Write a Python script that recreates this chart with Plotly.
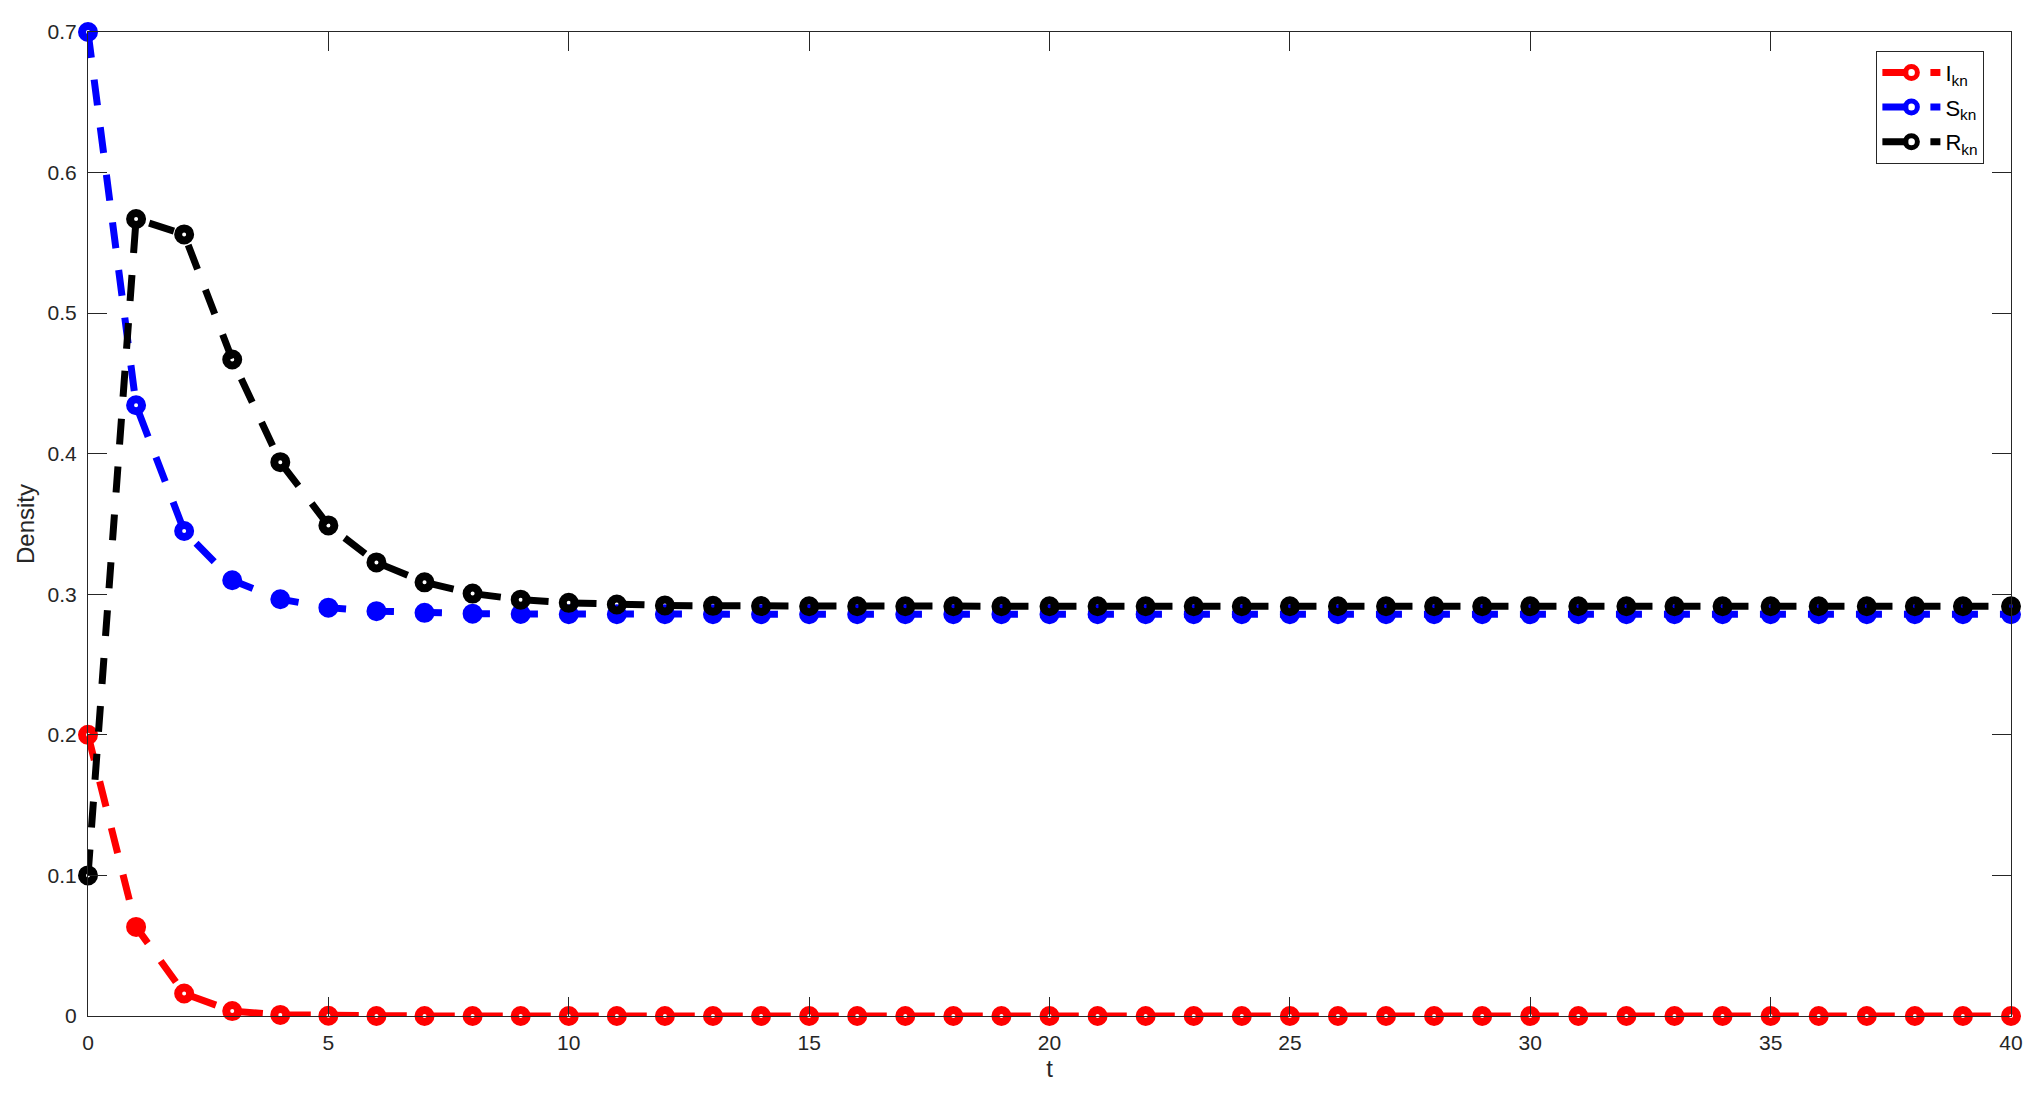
import plotly.graph_objects as go

t = list(range(0, 41))

I_kn = [0.200, 0.0634, 0.016, 0.0035, 0.0008, 0.0002] + [0.0] * 35
S_kn = [0.700, 0.4345, 0.345, 0.310, 0.2965, 0.2905, 0.288, 0.2868, 0.2862, 0.2860] + [0.2858] * 31
R_kn = [0.100, 0.567, 0.556, 0.467, 0.394, 0.349, 0.3227, 0.3085, 0.3005, 0.2962,
        0.2939, 0.2927, 0.2921, 0.2918, 0.2916] + [0.2915] * 26

series = [("I<sub>kn</sub>", I_kn, "#ff0000"),
          ("S<sub>kn</sub>", S_kn, "#0000ff"),
          ("R<sub>kn</sub>", R_kn, "#000000")]

x_ticks = list(range(0, 41, 5))
y_ticks = [0, 0.1, 0.2, 0.3, 0.4, 0.5, 0.6, 0.7]
y_ticklabels = ["0", "0.1", "0.2", "0.3", "0.4", "0.5", "0.6", "0.7"]

FONT = "Liberation Sans, Arial, sans-serif"

fig = go.Figure()
for name, vals, col in series:
    fig.add_trace(go.Scatter(
        x=t, y=vals, name=name, mode="lines+markers", legendgroup=name,
        line=dict(color=col, width=7, dash="26px,22px"),
        marker=dict(symbol="circle-open", size=12, color=col,
                    line=dict(color=col, width=8)),
        cliponaxis=False,
    ))

axis_common = dict(
    showgrid=False, zeroline=False, showline=True, linecolor="#262626",
    linewidth=1, mirror="ticks", ticks="inside", ticklen=19, tickwidth=1,
    tickcolor="#262626",
    tickfont=dict(family=FONT, size=21, color="#262626"),
)

fig.update_xaxes(range=[0, 40], tickvals=x_ticks, ticktext=[str(v) for v in x_ticks],
                 title=dict(text="t", font=dict(size=24, color="#262626", family=FONT),
                            standoff=6),
                 ticklabelstandoff=8,
                 **axis_common)
fig.update_yaxes(range=[0, 0.7], tickvals=y_ticks, ticktext=y_ticklabels,
                 title=dict(text="Density", font=dict(size=24, color="#262626", family=FONT),
                            standoff=6),
                 ticklabelstandoff=6,
                 **axis_common)

fig.update_layout(
    width=2027, height=1086, autosize=False,
    margin=dict(l=80, r=23, t=21, b=78),
    paper_bgcolor="white", plot_bgcolor="white",
    font=dict(family=FONT, color="#000000"),
    legend=dict(x=0.930, y=0.981, xanchor="left", yanchor="top",
                bgcolor="white", bordercolor="#262626", borderwidth=1,
                font=dict(size=22, color="#000000", family=FONT),
                tracegroupgap=3, itemwidth=58),
    showlegend=True,
)

fig.write_html("out.html")
